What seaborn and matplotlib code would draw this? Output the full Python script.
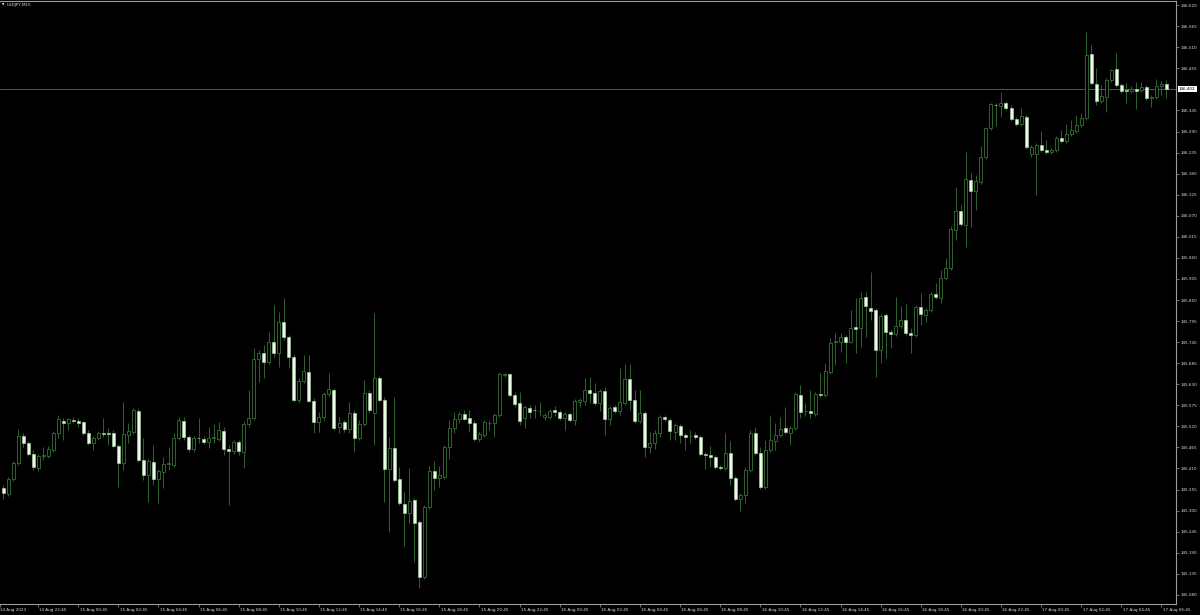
import numpy as np
import pandas as pd
import matplotlib
matplotlib.use("Agg")
import matplotlib.pyplot as plt
import matplotlib.transforms as mtransforms
import seaborn as sns

# %% data
symbol = "USDJPY,M15"
start_time = "2023-08-14 21:00"
first_label = "14 Aug 2023"
last_price = 146.402

opens = [
    145.359, 145.344, 145.383, 145.424, 145.495, 145.477, 145.448, 145.411, 145.442, 145.442,
    145.458, 145.503, 145.534, 145.529, 145.537, 145.534, 145.532, 145.503, 145.477, 145.490,
    145.503, 145.503, 145.503, 145.469, 145.424, 145.498, 145.506, 145.560, 145.432, 145.393,
    145.427, 145.383, 145.401, 145.422, 145.419, 145.490, 145.534, 145.493, 145.461, 145.490,
    145.487, 145.480, 145.490, 145.487, 145.508, 145.461, 145.456, 145.480, 145.453, 145.527,
    145.542, 145.696, 145.712, 145.688, 145.741, 145.712, 145.793, 145.754, 145.701, 145.589,
    145.639, 145.662, 145.586, 145.532, 145.545, 145.605, 145.615, 145.519, 145.532, 145.513,
    145.555, 145.490, 145.527, 145.607, 145.555, 145.646, 145.589, 145.409, 145.464, 145.383,
    145.317, 145.294, 145.328, 145.271, 145.127, 145.310, 145.404, 145.385, 145.388, 145.466,
    145.516, 145.540, 145.553, 145.542, 145.529, 145.487, 145.498, 145.529, 145.529, 145.550,
    145.654, 145.657, 145.602, 145.581, 145.542, 145.568, 145.563, 145.560, 145.545, 145.545,
    145.563, 145.558, 145.542, 145.553, 145.537, 145.584, 145.586, 145.615, 145.607, 145.581,
    145.613, 145.540, 145.571, 145.560, 145.581, 145.644, 145.589, 145.534, 145.555, 145.466,
    145.477, 145.503, 145.545, 145.537, 145.506, 145.521, 145.498, 145.495, 145.498, 145.493,
    145.448, 145.445, 145.440, 145.414, 145.411, 145.451, 145.385, 145.330, 145.341, 145.406,
    145.503, 145.451, 145.362, 145.458, 145.482, 145.498, 145.516, 145.503, 145.516, 145.602,
    145.560, 145.560, 145.553, 145.605, 145.602, 145.662, 145.741, 145.741, 145.754, 145.741,
    145.780, 145.777, 145.858, 145.829, 145.824, 145.720, 145.811, 145.767, 145.762, 145.783,
    145.798, 145.764, 145.759, 145.832, 145.811, 145.824, 145.866, 145.855, 145.908, 145.934,
    146.033, 146.083, 146.046, 146.164, 146.135, 146.158, 146.224, 146.300, 146.360, 146.357,
    146.365, 146.352, 146.323, 146.310, 146.328, 146.232, 146.232, 146.255, 146.242, 146.237,
    146.242, 146.273, 146.266, 146.284, 146.292, 146.307, 146.326, 146.493, 146.415, 146.370,
    146.381, 146.425, 146.454, 146.412, 146.399, 146.396, 146.401, 146.399, 146.407, 146.378,
    146.381, 146.409, 146.415,
]
closes = [
    145.346, 145.383, 145.424, 145.495, 145.477, 145.448, 145.414, 145.442, 145.445, 145.461,
    145.503, 145.540, 145.529, 145.540, 145.534, 145.529, 145.503, 145.477, 145.490, 145.503,
    145.500, 145.501, 145.469, 145.424, 145.500, 145.508, 145.563, 145.432, 145.393, 145.429,
    145.383, 145.404, 145.422, 145.423, 145.490, 145.537, 145.493, 145.461, 145.490, 145.489,
    145.480, 145.490, 145.491, 145.511, 145.461, 145.456, 145.480, 145.456, 145.527, 145.542,
    145.696, 145.712, 145.688, 145.741, 145.712, 145.793, 145.754, 145.701, 145.589, 145.639,
    145.665, 145.586, 145.532, 145.545, 145.605, 145.618, 145.516, 145.529, 145.513, 145.555,
    145.490, 145.527, 145.607, 145.563, 145.646, 145.589, 145.409, 145.464, 145.380, 145.320,
    145.294, 145.325, 145.268, 145.127, 145.310, 145.404, 145.385, 145.393, 145.466, 145.516,
    145.540, 145.553, 145.540, 145.529, 145.487, 145.500, 145.532, 145.530, 145.550, 145.657,
    145.657, 145.602, 145.579, 145.534, 145.571, 145.558, 145.562, 145.561, 145.550, 145.560,
    145.558, 145.542, 145.553, 145.537, 145.586, 145.589, 145.615, 145.607, 145.581, 145.613,
    145.540, 145.568, 145.560, 145.584, 145.644, 145.589, 145.534, 145.555, 145.466, 145.477,
    145.503, 145.545, 145.540, 145.508, 145.524, 145.498, 145.493, 145.496, 145.493, 145.448,
    145.445, 145.440, 145.414, 145.411, 145.451, 145.385, 145.330, 145.341, 145.406, 145.503,
    145.451, 145.362, 145.458, 145.485, 145.498, 145.513, 145.506, 145.516, 145.605, 145.558,
    145.561, 145.555, 145.605, 145.602, 145.665, 145.738, 145.742, 145.754, 145.741, 145.777,
    145.775, 145.855, 145.835, 145.822, 145.720, 145.809, 145.767, 145.762, 145.783, 145.798,
    145.764, 145.759, 145.832, 145.814, 145.824, 145.866, 145.858, 145.908, 145.934, 146.036,
    146.083, 146.049, 146.166, 146.135, 146.161, 146.224, 146.300, 146.363, 146.359, 146.365,
    146.352, 146.323, 146.310, 146.331, 146.250, 146.250, 146.255, 146.242, 146.237, 146.242,
    146.273, 146.266, 146.284, 146.294, 146.307, 146.326, 146.490, 146.417, 146.370, 146.383,
    146.425, 146.451, 146.412, 146.396, 146.396, 146.401, 146.396, 146.407, 146.378, 146.381,
    146.409, 146.415, 146.402,
]
highs = [
    145.367, 145.388, 145.429, 145.513, 145.503, 145.482, 145.458, 145.448, 145.466, 145.469,
    145.508, 145.550, 145.542, 145.542, 145.545, 145.542, 145.534, 145.511, 145.495, 145.508,
    145.542, 145.516, 145.511, 145.474, 145.584, 145.529, 145.568, 145.568, 145.490, 145.435,
    145.472, 145.409, 145.440, 145.466, 145.503, 145.545, 145.545, 145.498, 145.495, 145.542,
    145.495, 145.519, 145.527, 145.532, 145.519, 145.472, 145.485, 145.485, 145.534, 145.615,
    145.725, 145.720, 145.733, 145.767, 145.837, 145.819, 145.855, 145.759, 145.709, 145.646,
    145.707, 145.707, 145.594, 145.558, 145.610, 145.660, 145.620, 145.545, 145.537, 145.584,
    145.563, 145.537, 145.641, 145.615, 145.816, 145.652, 145.597, 145.493, 145.597, 145.414,
    145.349, 145.411, 145.333, 145.276, 145.315, 145.417, 145.430, 145.417, 145.472, 145.537,
    145.558, 145.558, 145.563, 145.563, 145.537, 145.506, 145.537, 145.537, 145.555, 145.662,
    145.660, 145.660, 145.610, 145.610, 145.576, 145.576, 145.576, 145.584, 145.555, 145.566,
    145.573, 145.563, 145.558, 145.558, 145.592, 145.594, 145.646, 145.649, 145.633, 145.618,
    145.623, 145.573, 145.576, 145.673, 145.683, 145.683, 145.615, 145.615, 145.560, 145.506,
    145.511, 145.550, 145.550, 145.542, 145.529, 145.527, 145.503, 145.511, 145.506, 145.498,
    145.453, 145.469, 145.445, 145.419, 145.503, 145.482, 145.391, 145.346, 145.414, 145.511,
    145.519, 145.466, 145.485, 145.550, 145.529, 145.545, 145.571, 145.521, 145.610, 145.628,
    145.581, 145.615, 145.610, 145.660, 145.686, 145.751, 145.764, 145.764, 145.759, 145.824,
    145.855, 145.871, 145.871, 145.923, 145.829, 145.814, 145.816, 145.772, 145.858, 145.835,
    145.840, 145.777, 145.837, 145.869, 145.829, 145.871, 145.895, 145.929, 145.960, 146.044,
    146.146, 146.098, 146.237, 146.182, 146.177, 146.253, 146.302, 146.365, 146.365, 146.394,
    146.370, 146.360, 146.328, 146.352, 146.334, 146.255, 146.261, 146.292, 146.268, 146.247,
    146.279, 146.294, 146.310, 146.320, 146.334, 146.339, 146.550, 146.516, 146.456, 146.412,
    146.430, 146.454, 146.496, 146.417, 146.417, 146.409, 146.420, 146.420, 146.412, 146.386,
    146.428, 146.422, 146.425,
]
lows = [
    145.331, 145.338, 145.377, 145.419, 145.466, 145.442, 145.406, 145.404, 145.432, 145.437,
    145.453, 145.490, 145.485, 145.511, 145.529, 145.519, 145.498, 145.472, 145.458, 145.485,
    145.493, 145.472, 145.464, 145.362, 145.406, 145.477, 145.500, 145.427, 145.380, 145.323,
    145.367, 145.320, 145.359, 145.406, 145.414, 145.485, 145.485, 145.453, 145.453, 145.477,
    145.474, 145.464, 145.477, 145.482, 145.445, 145.315, 145.448, 145.445, 145.411, 145.519,
    145.537, 145.636, 145.646, 145.683, 145.701, 145.675, 145.746, 145.673, 145.584, 145.581,
    145.633, 145.584, 145.503, 145.506, 145.537, 145.599, 145.511, 145.503, 145.506, 145.503,
    145.453, 145.485, 145.521, 145.558, 145.472, 145.584, 145.323, 145.244, 145.375, 145.315,
    145.208, 145.268, 145.166, 145.098, 145.122, 145.304, 145.354, 145.362, 145.383, 145.435,
    145.503, 145.529, 145.537, 145.506, 145.482, 145.480, 145.493, 145.511, 145.493, 145.545,
    145.649, 145.597, 145.571, 145.524, 145.516, 145.542, 145.542, 145.547, 145.537, 145.540,
    145.547, 145.537, 145.511, 145.532, 145.524, 145.571, 145.576, 145.581, 145.576, 145.560,
    145.498, 145.524, 145.555, 145.550, 145.576, 145.563, 145.529, 145.529, 145.440, 145.451,
    145.461, 145.493, 145.534, 145.485, 145.485, 145.477, 145.458, 145.477, 145.487, 145.442,
    145.409, 145.414, 145.409, 145.406, 145.406, 145.367, 145.325, 145.299, 145.320, 145.401,
    145.445, 145.357, 145.357, 145.453, 145.458, 145.493, 145.500, 145.472, 145.511, 145.542,
    145.547, 145.542, 145.547, 145.597, 145.597, 145.657, 145.680, 145.714, 145.686, 145.738,
    145.712, 145.728, 145.754, 145.798, 145.649, 145.686, 145.699, 145.725, 145.756, 145.777,
    145.759, 145.712, 145.754, 145.785, 145.793, 145.819, 145.853, 145.842, 145.902, 145.929,
    146.007, 146.044, 145.989, 146.041, 146.085, 146.153, 146.219, 146.294, 146.305, 146.328,
    146.347, 146.318, 146.305, 146.305, 146.245, 146.224, 146.125, 146.237, 146.232, 146.232,
    146.237, 146.261, 146.261, 146.279, 146.287, 146.302, 146.320, 146.412, 146.360, 146.365,
    146.341, 146.420, 146.407, 146.391, 146.365, 146.391, 146.349, 146.394, 146.373, 146.355,
    146.375, 146.386, 146.378,
]

# %% frame
df = pd.DataFrame(dict(open=opens, high=highs, low=lows, close=closes))
df["time"] = pd.date_range(start_time, periods=len(df), freq="15min")
df["bar"] = np.arange(len(df))
up = df["close"] >= df["open"]
body_low = np.minimum(df["open"], df["close"])
body_h = np.maximum((df["close"] - df["open"]).abs(), 0.0006)

line_green = "#2f632f"
bear_face = "#eef8ea"
text_col = "#dcdcdc"
frame_col = "#9a9a9a"

sns.set_style("dark", {
    "axes.facecolor": "black",
    "figure.facecolor": "black",
    "axes.edgecolor": frame_col,
    "axes.grid": False,
})
plt.rcParams["font.family"] = ["DejaVu Sans"]

fig = plt.figure(figsize=(12, 6.15), dpi=100)
ax = fig.add_axes([0, 11 / 615, 1176 / 1200, 603 / 615])

# wicks then bodies
ax.vlines(df["bar"], df["low"], df["high"], color=line_green, lw=0.7, zorder=2)
ax.bar(df.loc[up, "bar"], body_h[up], bottom=body_low[up], width=0.6,
       facecolor="black", edgecolor=line_green, lw=0.7, zorder=3)
ax.bar(df.loc[~up, "bar"], body_h[~up], bottom=body_low[~up], width=0.6,
       facecolor=bear_face, edgecolor="#9fc89a", lw=0.5, zorder=3)

# current price line + label
ax.axhline(last_price, color="#585858", lw=0.7, zorder=1)
trans = mtransforms.blended_transform_factory(ax.transAxes, ax.transData)
ax.text(1.0 + 3 / 1176, last_price, f"{last_price:.3f}", transform=trans,
        ha="left", va="center", fontsize=3.0, color="black", zorder=10,
        clip_on=False,
        bbox=dict(boxstyle="square,pad=0.25", fc="white", ec="none"))

ax.set_xlim(-0.6, 233.9)
ax.set_ylim(145.056, 146.631)

# price scale on the right
yt = np.round(146.620 - 0.055 * np.arange(29), 3)
yt = yt[np.abs(yt - 146.400) > 0.001]
ax.set_yticks(yt)
ax.set_yticklabels([f"{v:.3f}" for v in yt])
ax.yaxis.tick_right()
ax.tick_params(axis="y", right=True, left=False, length=2, width=0.5,
               pad=1.2, labelsize=3.0, colors=frame_col, labelcolor=text_col)

# time scale every 2 hours
xt = [-0.6] + list(range(7, len(df), 8))
xl = [first_label] + [t.strftime("%d %b %H:%M") for t in df["time"].iloc[7::8]]
ax.set_xticks(xt)
ax.set_xticklabels(xl, ha="left")
ax.tick_params(axis="x", bottom=True, length=2.5, width=0.5, pad=0.6,
               labelsize=3.0, colors=frame_col, labelcolor=text_col)
for k, lbl in enumerate(ax.get_xticklabels()):
    dx = 0.5 if k == 0 else 1.3
    lbl.set_transform(lbl.get_transform()
                      + mtransforms.ScaledTranslation(dx / 100, 0, fig.dpi_scale_trans))

for side in ["top", "right", "bottom"]:
    ax.spines[side].set_color(frame_col)
    ax.spines[side].set_linewidth(0.8)
ax.spines["left"].set_visible(False)

# symbol caption
fig.text(2 / 1200, 1 - 5 / 615, "\u25bc", fontsize=2.2, color="white",
         ha="left", va="center")
fig.text(7 / 1200, 1 - 5 / 615, symbol, fontsize=3.0, color=text_col,
         ha="left", va="center")

fig.savefig("out.png", dpi=100, facecolor="black")
